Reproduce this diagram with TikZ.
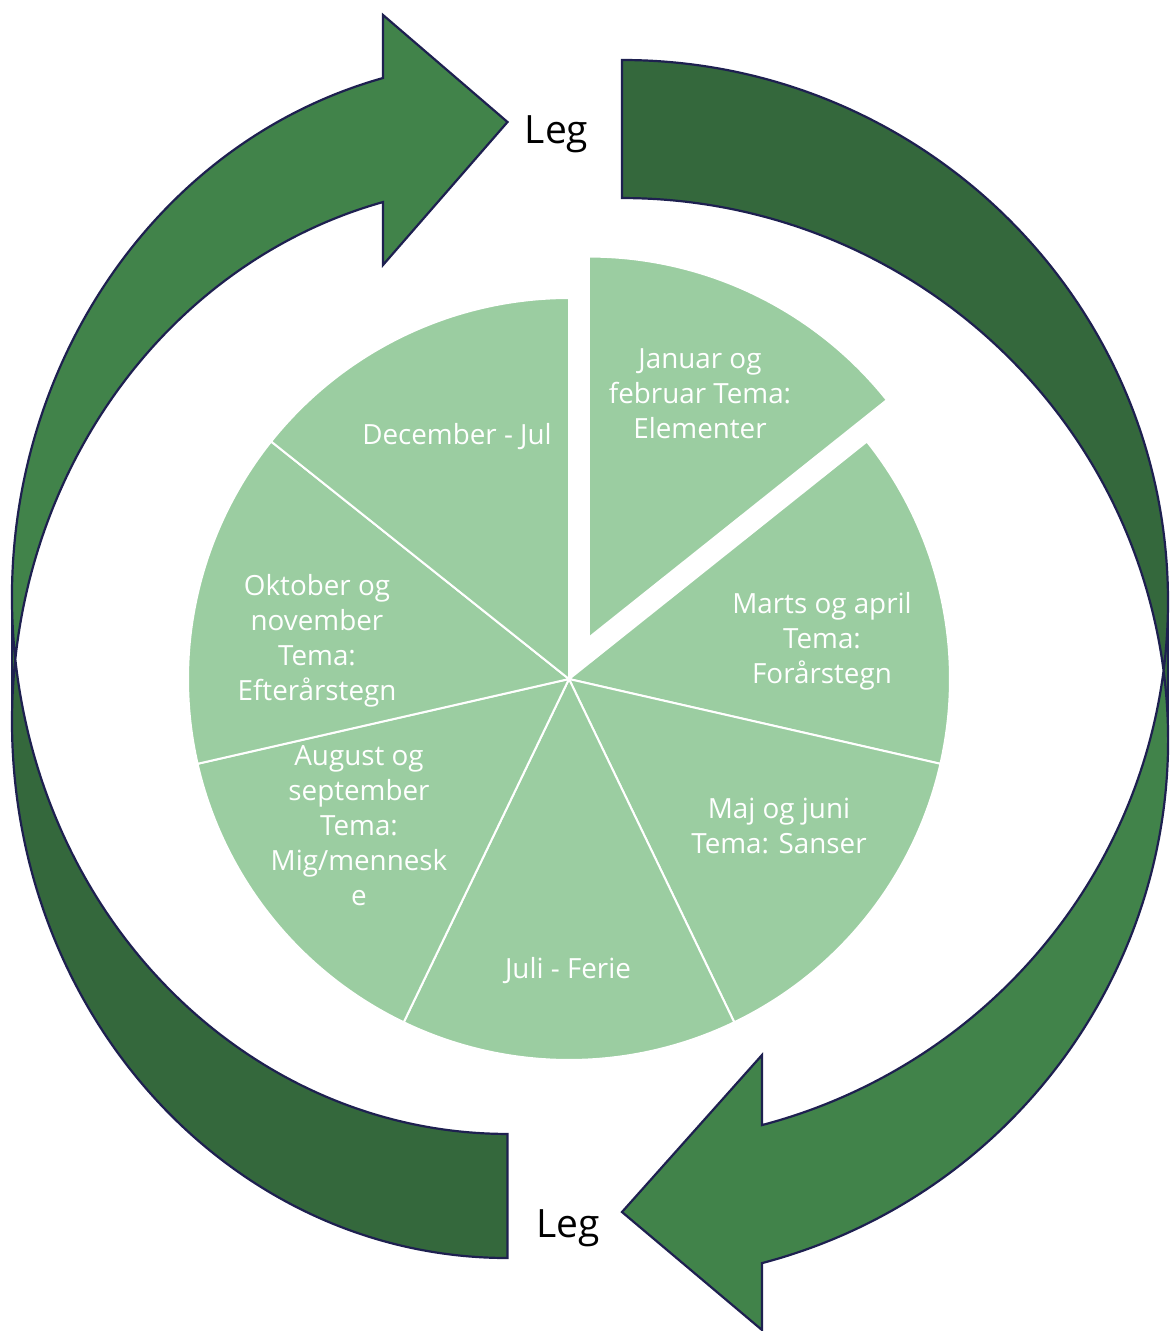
\documentclass[tikz,border=0pt]{standalone}
\usepackage{fontspec}
\setmainfont{Open Sans}
\definecolor{pieG}{RGB}{155,205,161}
\definecolor{arrL}{RGB}{65,131,74}
\definecolor{arrD}{RGB}{52,104,60}
\definecolor{navy}{RGB}{30,32,80}
\begin{document}
\begin{tikzpicture}[x=1pt,y=-1pt,
  slice/.style={fill=pieG, draw=white, line width=2pt, line join=round},
  lbl/.style={text=white, font=\fontsize{27.8}{35}\selectfont, align=center, inner sep=0pt},
  legtxt/.style={font=\fontsize{39}{45}\selectfont, text=black, inner sep=0pt},
  arrlight/.style={fill=arrL},
  arrdark/.style={fill=arrD},
  arrline/.style={draw=navy, line width=2.2pt, line join=miter},
  ellLA/.style={x radius=495.5, y radius=536.6},
  ellRA/.style={x radius=546, y radius=541.6}
]
\useasboundingbox (0,0) rectangle (1172,1331);
\fill[white] (0,0) rectangle (1172,1331);
\clip (0,0) rectangle (1172,1331);

% ---------- left arrow (head at top) ----------
\fill[arrlight] (12,721.4) arc[start angle=180, end angle=255.44, ellLA]
  -- (383,265) -- (507.5,122) -- (383,15) -- (383,78)
  arc[start angle=255.44, end angle=180, ellLA] -- cycle;
\fill[arrdark] (507.5,1134) arc[start angle=90, end angle=180, ellLA]
  -- (12,721.4) arc[start angle=180, end angle=90, ellLA] -- cycle;
\draw[arrline] (507.5,1258) arc[start angle=90, end angle=255.44, ellLA]
  -- (383,265) -- (507.5,122) -- (383,15) -- (383,78)
  arc[start angle=255.44, end angle=90, ellLA] -- cycle;
\draw[arrline] (12,597.4) -- (12,721.4);

% ---------- right arrow (head at bottom) ----------
\fill[arrlight] (1168,601.6) arc[start angle=0, end angle=75.14, ellRA]
  -- (762,1055) -- (622,1212) -- (762,1330) -- (762,1263.1)
  arc[start angle=75.14, end angle=0, ellRA] -- cycle;
\fill[arrdark] (622,198) arc[start angle=270, end angle=360, ellRA]
  -- (1168,601.6) arc[start angle=360, end angle=270, ellRA] -- cycle;
\draw[arrline] (622,60) arc[start angle=270, end angle=435.14, ellRA]
  -- (762,1055) -- (622,1212) -- (762,1330) -- (762,1263.1)
  arc[start angle=75.14, end angle=-90, ellRA] -- cycle;
\draw[arrline] (1168,601.6) -- (1168,739.6);

% ---------- pie ----------
\coordinate (pc) at (569,679);
\coordinate (pj) at ([shift={(-64.29:46)}]pc);
\filldraw[slice] (pj) -- ++(-90:381) arc[start angle=-90, end angle=-38.57, radius=381] -- cycle;
\filldraw[slice] (pc) -- ++(-38.57:381) arc[start angle=-38.57, end angle=12.86, radius=381] -- cycle;
\filldraw[slice] (pc) -- ++(12.86:381) arc[start angle=12.86, end angle=64.29, radius=381] -- cycle;
\filldraw[slice] (pc) -- ++(64.29:381) arc[start angle=64.29, end angle=115.71, radius=381] -- cycle;
\filldraw[slice] (pc) -- ++(115.71:381) arc[start angle=115.71, end angle=167.14, radius=381] -- cycle;
\filldraw[slice] (pc) -- ++(167.14:381) arc[start angle=167.14, end angle=218.57, radius=381] -- cycle;
\filldraw[slice] (pc) -- ++(218.57:381) arc[start angle=218.57, end angle=270, radius=381] -- cycle;

% ---------- labels ----------
\node[lbl] (jan) at (700,394) {Januar og\\februar Tema:\\Elementer};
\node[lbl] (mar) at (822,641) {Marts og april\\Tema:\\Forårstegn};
\node[lbl] (maj) at (779,826) {Maj og juni\\Tema: Sanser};
\node[lbl] (jul) at (568,971) {Juli - Ferie};
\node[lbl] (aug) at (359,826) {August og\\september\\Tema:\\Mig/mennesk\\e};
\node[lbl] (okt) at (317,641) {Oktober og\\november\\Tema:\\Efterårstegn};
\node[lbl] (dec) at (457,437) {December - Jul};

\node[legtxt, anchor=base] (legtop) at (556.5,143) {Leg};
\node[legtxt, anchor=base] (legbot) at (568,1237) {Leg};
\end{tikzpicture}
\end{document}
